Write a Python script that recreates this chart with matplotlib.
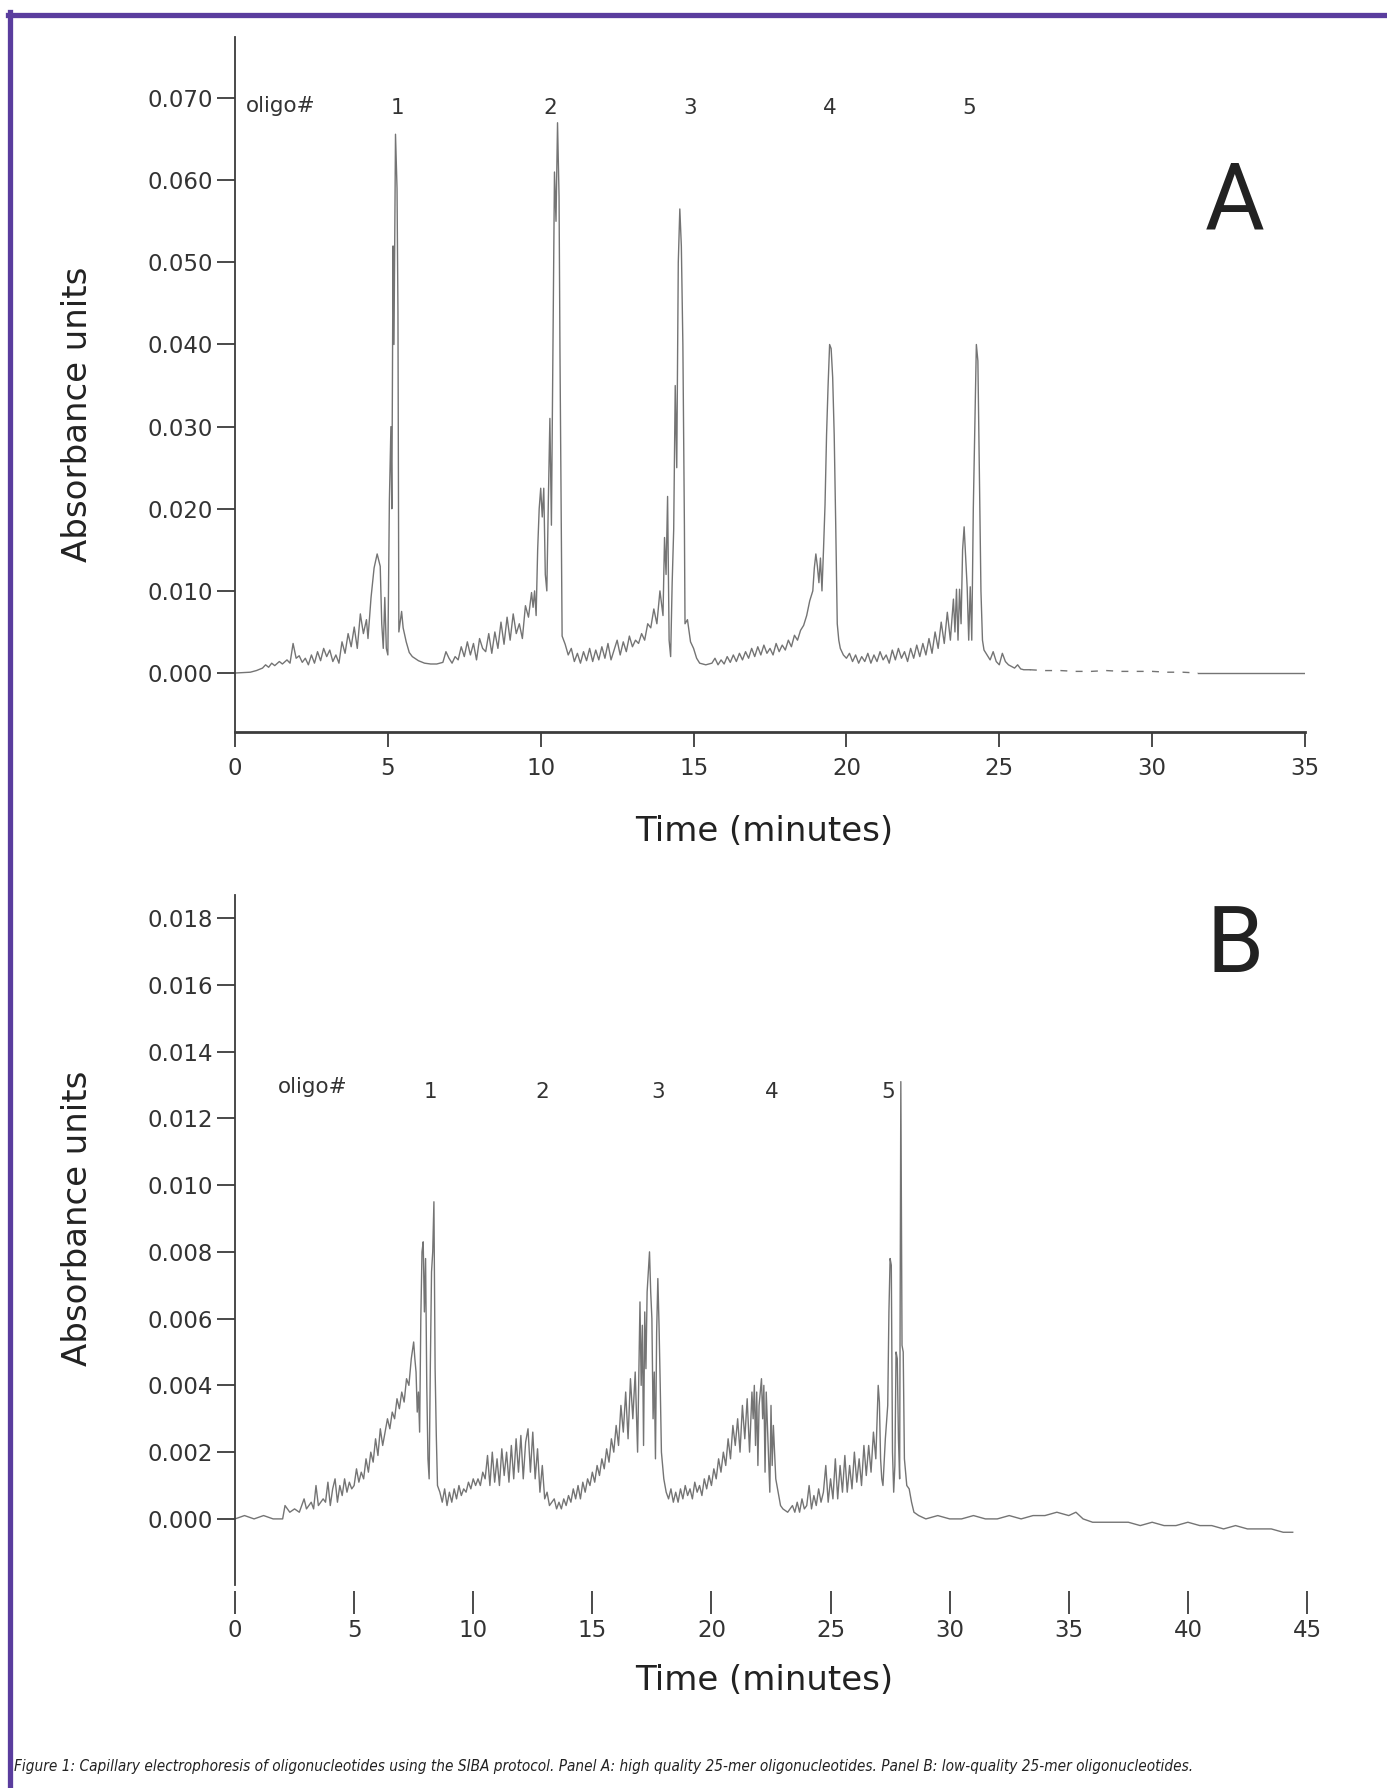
import matplotlib
matplotlib.use("Agg")
import matplotlib.pyplot as plt
from matplotlib.lines import Line2D
from matplotlib.ticker import FormatStrFormatter
import numpy as np

# ---- data ----
# panel A: high quality 25-mer oligos, (time in minutes, absorbance units)
trace_a = [
    (0.0, 0.0000), (0.5, 0.0001), (0.7, 0.0003), (0.9, 0.0006), (1.0, 0.0010), (1.1, 0.0007),
    (1.2, 0.0012), (1.3, 0.0009), (1.45, 0.0014), (1.55, 0.0011), (1.7, 0.0016), (1.8, 0.0012),
    (1.9, 0.0036), (2.0, 0.0018), (2.1, 0.0021), (2.2, 0.0013), (2.3, 0.0018), (2.4, 0.0010),
    (2.5, 0.0022), (2.6, 0.0012), (2.7, 0.0026), (2.8, 0.0015), (2.9, 0.0030), (3.0, 0.0020),
    (3.1, 0.0028), (3.2, 0.0014), (3.3, 0.0022), (3.4, 0.0012), (3.5, 0.0038), (3.6, 0.0024),
    (3.7, 0.0048), (3.8, 0.0032), (3.9, 0.0056), (4.0, 0.0030), (4.1, 0.0072), (4.2, 0.0048),
    (4.3, 0.0065), (4.35, 0.0042), (4.45, 0.0092), (4.55, 0.0128), (4.65, 0.0145), (4.75, 0.0130),
    (4.8, 0.0060), (4.85, 0.0030), (4.9, 0.0092), (4.95, 0.0030), (5.0, 0.0022), (5.05, 0.0210),
    (5.1, 0.0300), (5.13, 0.0200), (5.17, 0.0520), (5.2, 0.0400), (5.25, 0.0656), (5.3, 0.0590),
    (5.33, 0.0440), (5.36, 0.0050), (5.45, 0.0075), (5.5, 0.0055), (5.6, 0.0038), (5.7, 0.0025),
    (5.8, 0.0020), (6.0, 0.0015), (6.2, 0.0012), (6.4, 0.0011), (6.6, 0.0011), (6.8, 0.0013),
    (6.9, 0.0026), (7.0, 0.0018), (7.1, 0.0012), (7.2, 0.0020), (7.3, 0.0016), (7.4, 0.0032),
    (7.5, 0.0020), (7.6, 0.0038), (7.7, 0.0022), (7.8, 0.0036), (7.9, 0.0016), (8.0, 0.0042),
    (8.1, 0.0030), (8.2, 0.0026), (8.3, 0.0048), (8.4, 0.0024), (8.5, 0.0050), (8.6, 0.0030),
    (8.7, 0.0062), (8.8, 0.0035), (8.9, 0.0068), (9.0, 0.0040), (9.1, 0.0072), (9.2, 0.0048),
    (9.3, 0.0060), (9.4, 0.0042), (9.5, 0.0082), (9.6, 0.0068), (9.7, 0.0098), (9.75, 0.0080),
    (9.8, 0.0100), (9.85, 0.0070), (9.9, 0.0150), (9.95, 0.0200), (10.0, 0.0225), (10.05, 0.0190),
    (10.1, 0.0225), (10.15, 0.0120), (10.2, 0.0100), (10.25, 0.0210), (10.3, 0.0310), (10.35, 0.0180),
    (10.4, 0.0400), (10.45, 0.0610), (10.5, 0.0550), (10.55, 0.0670), (10.6, 0.0580), (10.63, 0.0390),
    (10.67, 0.0190), (10.7, 0.0045), (10.8, 0.0035), (10.9, 0.0022), (11.0, 0.0030), (11.1, 0.0014),
    (11.2, 0.0024), (11.3, 0.0012), (11.4, 0.0026), (11.5, 0.0015), (11.6, 0.0030), (11.7, 0.0014),
    (11.8, 0.0028), (11.9, 0.0016), (12.0, 0.0032), (12.1, 0.0018), (12.2, 0.0036), (12.3, 0.0016),
    (12.4, 0.0028), (12.5, 0.0040), (12.6, 0.0022), (12.7, 0.0038), (12.8, 0.0026), (12.9, 0.0045),
    (13.0, 0.0032), (13.1, 0.0040), (13.2, 0.0036), (13.3, 0.0048), (13.4, 0.0040), (13.5, 0.0060),
    (13.6, 0.0055), (13.7, 0.0078), (13.8, 0.0060), (13.9, 0.0100), (14.0, 0.0070), (14.05, 0.0165),
    (14.1, 0.0120), (14.15, 0.0215), (14.2, 0.0040), (14.25, 0.0020), (14.3, 0.0110), (14.35, 0.0175),
    (14.4, 0.0350), (14.45, 0.0250), (14.5, 0.0500), (14.55, 0.0565), (14.6, 0.0520), (14.65, 0.0400),
    (14.7, 0.0180), (14.72, 0.0060), (14.8, 0.0065), (14.9, 0.0038), (15.0, 0.0030), (15.1, 0.0018),
    (15.2, 0.0012), (15.4, 0.0010), (15.6, 0.0012), (15.7, 0.0018), (15.8, 0.0010), (15.9, 0.0016),
    (16.0, 0.0011), (16.1, 0.0020), (16.2, 0.0013), (16.3, 0.0022), (16.4, 0.0014), (16.5, 0.0024),
    (16.6, 0.0016), (16.7, 0.0026), (16.8, 0.0018), (16.9, 0.0030), (17.0, 0.0020), (17.1, 0.0032),
    (17.2, 0.0022), (17.3, 0.0034), (17.4, 0.0024), (17.5, 0.0030), (17.6, 0.0022), (17.7, 0.0036),
    (17.8, 0.0026), (17.9, 0.0034), (18.0, 0.0028), (18.1, 0.0040), (18.2, 0.0032), (18.3, 0.0046),
    (18.4, 0.0040), (18.5, 0.0052), (18.6, 0.0058), (18.7, 0.0070), (18.8, 0.0088), (18.9, 0.0100),
    (18.95, 0.0128), (19.0, 0.0145), (19.05, 0.0130), (19.1, 0.0110), (19.15, 0.0140), (19.2, 0.0100),
    (19.25, 0.0150), (19.3, 0.0205), (19.35, 0.0290), (19.4, 0.0350), (19.45, 0.0400), (19.5, 0.0395),
    (19.55, 0.0360), (19.6, 0.0290), (19.65, 0.0180), (19.7, 0.0060), (19.75, 0.0040), (19.8, 0.0030),
    (19.9, 0.0022), (20.0, 0.0018), (20.1, 0.0024), (20.2, 0.0014), (20.3, 0.0022), (20.4, 0.0012),
    (20.5, 0.0020), (20.6, 0.0014), (20.7, 0.0024), (20.8, 0.0012), (20.9, 0.0022), (21.0, 0.0014),
    (21.1, 0.0026), (21.2, 0.0016), (21.3, 0.0022), (21.4, 0.0012), (21.5, 0.0028), (21.6, 0.0016),
    (21.7, 0.0030), (21.8, 0.0018), (21.9, 0.0026), (22.0, 0.0014), (22.1, 0.0030), (22.2, 0.0018),
    (22.3, 0.0034), (22.4, 0.0020), (22.5, 0.0036), (22.6, 0.0022), (22.7, 0.0042), (22.8, 0.0024),
    (22.9, 0.0050), (23.0, 0.0030), (23.1, 0.0062), (23.2, 0.0036), (23.3, 0.0074), (23.4, 0.0040),
    (23.5, 0.0090), (23.55, 0.0050), (23.6, 0.0102), (23.65, 0.0040), (23.7, 0.0102), (23.75, 0.0060),
    (23.8, 0.0150), (23.85, 0.0178), (23.9, 0.0140), (23.95, 0.0104), (24.0, 0.0040), (24.05, 0.0105),
    (24.1, 0.0040), (24.15, 0.0200), (24.2, 0.0300), (24.25, 0.0400), (24.3, 0.0380), (24.35, 0.0240),
    (24.4, 0.0100), (24.45, 0.0040), (24.5, 0.0028), (24.6, 0.0022), (24.7, 0.0016), (24.8, 0.0026),
    (24.9, 0.0014), (25.0, 0.0010), (25.1, 0.0024), (25.2, 0.0014), (25.3, 0.0010), (25.4, 0.0008),
    (25.5, 0.0006), (25.6, 0.0010), (25.7, 0.0005), (25.8, 0.0004), (26.0, 0.0004), (26.5, 0.0003),
    (27.0, 0.0003), (27.5, 0.0002), (28.0, 0.0002), (28.5, 0.0003), (29.0, 0.0002), (29.5, 0.0002),
    (30.0, 0.0002), (30.5, 0.0001), (31.0, 0.0001), (31.5, 0.0000), (35.0, 0.0000),
]

# panel B: low quality 25-mer oligos
trace_b = [
    (0.0, 0.0000), (0.4, 0.0001), (0.8, 0.0000), (1.2, 0.0001), (1.6, 0.0000), (2.0, 0.0000),
    (2.1, 0.0004), (2.3, 0.0002), (2.5, 0.0003), (2.7, 0.0002), (2.9, 0.0006), (3.0, 0.0003),
    (3.2, 0.0005), (3.3, 0.0003), (3.4, 0.0010), (3.5, 0.0004), (3.7, 0.0006), (3.8, 0.0005),
    (3.9, 0.0011), (4.0, 0.0004), (4.1, 0.0009), (4.2, 0.0012), (4.3, 0.0005), (4.4, 0.0010),
    (4.5, 0.0007), (4.6, 0.0012), (4.7, 0.0008), (4.8, 0.0011), (4.9, 0.0009), (5.0, 0.0010),
    (5.1, 0.0015), (5.2, 0.0011), (5.3, 0.0014), (5.4, 0.0012), (5.5, 0.0018), (5.6, 0.0014),
    (5.7, 0.0020), (5.8, 0.0017), (5.9, 0.0024), (6.0, 0.0019), (6.1, 0.0027), (6.2, 0.0022),
    (6.3, 0.0026), (6.4, 0.0030), (6.5, 0.0027), (6.6, 0.0032), (6.7, 0.0030), (6.8, 0.0036),
    (6.9, 0.0033), (7.0, 0.0038), (7.1, 0.0035), (7.2, 0.0042), (7.3, 0.0040), (7.4, 0.0048),
    (7.5, 0.0053), (7.55, 0.0048), (7.6, 0.0044), (7.65, 0.0032), (7.7, 0.0038), (7.75, 0.0026),
    (7.8, 0.0060), (7.85, 0.0080), (7.9, 0.0083), (7.95, 0.0062), (8.0, 0.0078), (8.05, 0.0040),
    (8.1, 0.0018), (8.15, 0.0012), (8.2, 0.0046), (8.25, 0.0074), (8.3, 0.0080), (8.35, 0.0095),
    (8.4, 0.0045), (8.45, 0.0025), (8.5, 0.0010), (8.6, 0.0008), (8.7, 0.0005), (8.8, 0.0009),
    (8.9, 0.0004), (9.0, 0.0008), (9.1, 0.0005), (9.2, 0.0009), (9.3, 0.0006), (9.4, 0.0010),
    (9.5, 0.0007), (9.6, 0.0009), (9.7, 0.0008), (9.8, 0.0011), (9.9, 0.0009), (10.0, 0.0012),
    (10.1, 0.0010), (10.2, 0.0012), (10.3, 0.0010), (10.4, 0.0014), (10.5, 0.0012), (10.6, 0.0019),
    (10.7, 0.0010), (10.8, 0.0020), (10.9, 0.0011), (11.0, 0.0018), (11.1, 0.0010), (11.2, 0.0021),
    (11.3, 0.0013), (11.4, 0.0020), (11.5, 0.0011), (11.6, 0.0022), (11.7, 0.0012), (11.8, 0.0024),
    (11.9, 0.0014), (12.0, 0.0025), (12.1, 0.0012), (12.2, 0.0023), (12.3, 0.0027), (12.4, 0.0014),
    (12.5, 0.0026), (12.6, 0.0012), (12.7, 0.0021), (12.8, 0.0008), (12.9, 0.0016), (13.0, 0.0006),
    (13.1, 0.0008), (13.2, 0.0004), (13.4, 0.0006), (13.5, 0.0003), (13.6, 0.0005), (13.7, 0.0003),
    (13.8, 0.0006), (13.9, 0.0004), (14.0, 0.0007), (14.1, 0.0005), (14.2, 0.0009), (14.3, 0.0006),
    (14.4, 0.0010), (14.5, 0.0006), (14.6, 0.0011), (14.7, 0.0008), (14.8, 0.0012), (14.9, 0.0010),
    (15.0, 0.0014), (15.1, 0.0011), (15.2, 0.0016), (15.3, 0.0013), (15.4, 0.0018), (15.5, 0.0015),
    (15.6, 0.0021), (15.7, 0.0017), (15.8, 0.0024), (15.9, 0.0020), (16.0, 0.0028), (16.1, 0.0022),
    (16.2, 0.0034), (16.3, 0.0026), (16.4, 0.0038), (16.5, 0.0024), (16.6, 0.0042), (16.7, 0.0030),
    (16.8, 0.0044), (16.9, 0.0020), (17.0, 0.0065), (17.05, 0.0040), (17.1, 0.0058), (17.15, 0.0022),
    (17.2, 0.0062), (17.25, 0.0045), (17.3, 0.0068), (17.35, 0.0074), (17.4, 0.0080), (17.45, 0.0068),
    (17.5, 0.0060), (17.55, 0.0030), (17.6, 0.0044), (17.65, 0.0018), (17.7, 0.0056), (17.75, 0.0072),
    (17.8, 0.0058), (17.85, 0.0040), (17.9, 0.0020), (18.0, 0.0012), (18.1, 0.0008), (18.2, 0.0006),
    (18.3, 0.0009), (18.4, 0.0005), (18.5, 0.0008), (18.6, 0.0005), (18.7, 0.0009), (18.8, 0.0006),
    (18.9, 0.0010), (19.0, 0.0007), (19.1, 0.0009), (19.2, 0.0006), (19.3, 0.0011), (19.4, 0.0008),
    (19.5, 0.0010), (19.6, 0.0007), (19.7, 0.0012), (19.8, 0.0009), (19.9, 0.0013), (20.0, 0.0010),
    (20.1, 0.0015), (20.2, 0.0012), (20.3, 0.0018), (20.4, 0.0014), (20.5, 0.0020), (20.6, 0.0016),
    (20.7, 0.0024), (20.8, 0.0018), (20.9, 0.0028), (21.0, 0.0022), (21.1, 0.0030), (21.2, 0.0020),
    (21.3, 0.0034), (21.4, 0.0024), (21.5, 0.0036), (21.55, 0.0028), (21.6, 0.0020), (21.7, 0.0038),
    (21.75, 0.0030), (21.8, 0.0040), (21.85, 0.0022), (21.9, 0.0038), (21.95, 0.0016), (22.0, 0.0034),
    (22.1, 0.0042), (22.15, 0.0030), (22.2, 0.0040), (22.25, 0.0014), (22.3, 0.0038), (22.4, 0.0018),
    (22.45, 0.0008), (22.5, 0.0034), (22.55, 0.0016), (22.6, 0.0028), (22.7, 0.0012), (22.8, 0.0008),
    (22.9, 0.0004), (23.0, 0.0003), (23.2, 0.0002), (23.4, 0.0004), (23.5, 0.0002), (23.6, 0.0005),
    (23.7, 0.0002), (23.8, 0.0006), (23.9, 0.0003), (24.0, 0.0004), (24.1, 0.0010), (24.2, 0.0003),
    (24.3, 0.0007), (24.4, 0.0004), (24.5, 0.0009), (24.6, 0.0005), (24.7, 0.0008), (24.8, 0.0016),
    (24.9, 0.0005), (25.0, 0.0012), (25.1, 0.0006), (25.2, 0.0018), (25.3, 0.0006), (25.4, 0.0016),
    (25.5, 0.0008), (25.6, 0.0019), (25.7, 0.0008), (25.8, 0.0016), (25.9, 0.0009), (26.0, 0.0020),
    (26.1, 0.0011), (26.2, 0.0018), (26.3, 0.0010), (26.4, 0.0022), (26.5, 0.0013), (26.6, 0.0022),
    (26.7, 0.0014), (26.8, 0.0026), (26.9, 0.0018), (27.0, 0.0040), (27.05, 0.0035), (27.1, 0.0018),
    (27.15, 0.0012), (27.2, 0.0010), (27.3, 0.0024), (27.4, 0.0034), (27.45, 0.0062), (27.5, 0.0078),
    (27.55, 0.0076), (27.6, 0.0020), (27.65, 0.0008), (27.7, 0.0016), (27.75, 0.0050), (27.8, 0.0048),
    (27.85, 0.0024), (27.9, 0.0012), (27.95, 0.0131), (28.0, 0.0052), (28.05, 0.0050), (28.1, 0.0018),
    (28.2, 0.0010), (28.3, 0.0009), (28.4, 0.0005), (28.5, 0.0002), (28.7, 0.0001), (29.0, 0.0000),
    (29.5, 0.0001), (30.0, 0.0000), (30.5, 0.0000), (31.0, 0.0001), (31.5, 0.0000), (32.0, 0.0000),
    (32.5, 0.0001), (33.0, 0.0000), (33.5, 0.0001), (34.0, 0.0001), (34.5, 0.0002), (35.0, 0.0001),
    (35.3, 0.0002), (35.6, 0.0000), (36.0, -0.0001), (36.5, -0.0001), (37.0, -0.0001), (37.5, -0.0001),
    (38.0, -0.0002), (38.5, -0.0001), (39.0, -0.0002), (39.5, -0.0002), (40.0, -0.0001), (40.5, -0.0002),
    (41.0, -0.0002), (41.5, -0.0003), (42.0, -0.0002), (42.5, -0.0003), (43.0, -0.0003), (43.5, -0.0003),
    (44.0, -0.0004), (44.4, -0.0004),
]

oligo_labels = ["1", "2", "3", "4", "5"]
oligo_pos_a = [5.3, 10.3, 14.9, 19.45, 24.0]
oligo_pos_b = [8.2, 12.9, 17.75, 22.55, 27.4]

yticks_a = [0.0, 0.01, 0.02, 0.03, 0.04, 0.05, 0.06, 0.07]
yticks_b = [0.0, 0.002, 0.004, 0.006, 0.008, 0.010, 0.012, 0.014, 0.016, 0.018]
xticks_a = [0, 5, 10, 15, 20, 25, 30, 35]
xticks_b = [0, 5, 10, 15, 20, 25, 30, 35, 40, 45]

caption = ("Figure 1: Capillary electrophoresis of oligonucleotides using the SIBA protocol. "
           "Panel A: high quality 25-mer oligonucleotides. Panel B: low-quality 25-mer oligonucleotides.")

TRACE = "#747474"
AXIS = "#3c3c3c"
TXT = "#333333"
PURPLE = "#5a3d9e"

W, H = 1387, 1788
fig = plt.figure(figsize=(W / 100, H / 100), dpi=100)
fig.patch.set_facecolor("white")

# purple frame (top + left edges)
fig.add_artist(Line2D([8 / W, 1.0], [1 - 14.5 / H, 1 - 14.5 / H], color=PURPLE, lw=3.8,
                      transform=fig.transFigure))
fig.add_artist(Line2D([10 / W, 10 / W], [0, 1 - 12 / H], color=PURPLE, lw=3.8,
                      transform=fig.transFigure))


def style_axes(ax, xticks, yticks):
    for s in ("top", "right"):
        ax.spines[s].set_visible(False)
    ax.spines["left"].set_color(AXIS)
    ax.spines["left"].set_linewidth(1.3)
    ax.spines["bottom"].set_color(AXIS)
    ax.spines["bottom"].set_linewidth(2.0)
    ax.set_xticks(xticks)
    ax.set_yticks(yticks)
    ax.yaxis.set_major_formatter(FormatStrFormatter("%.3f"))
    ax.tick_params(axis="y", direction="out", length=13, width=1.3, color=AXIS,
                   labelsize=16.5, labelcolor=TXT, pad=3)
    ax.tick_params(axis="x", direction="out", width=1.3, color=AXIS,
                   labelsize=16.5, labelcolor=TXT)
    ax.patch.set_alpha(0)


# ---- panel A ----
axA = fig.add_axes([235 / W, 1 - 732 / H, 1070 / W, (732 - 36.5) / H])
ta = np.array([p[0] for p in trace_a])
va = np.array([p[1] for p in trace_a])
solid1 = ta <= 26.0
dashed = (ta >= 26.0) & (ta <= 31.5)
solid2 = ta >= 31.5
axA.plot(ta[solid1], va[solid1], color=TRACE, lw=1.0)
axA.plot(ta[dashed], va[dashed], color=TRACE, lw=1.0, ls=(0, (5, 6)))
axA.plot(ta[solid2], va[solid2], color=TRACE, lw=1.0)
axA.set_xlim(0, 35)
axA.set_ylim(-0.00718, 0.0775)
style_axes(axA, xticks_a, yticks_a)
axA.tick_params(axis="x", length=11, pad=7)

axA.text(0.36, 0.0690, "oligo#", fontsize=15.5, color=TXT, ha="left", va="center")
for lab, x in zip(oligo_labels, oligo_pos_a):
    axA.text(x, 0.0688, lab, fontsize=15.5, color=TXT, ha="center", va="center")

# ---- panel B ----
axB = fig.add_axes([235 / W, 1 - 1585 / H, 1072 / W, (1585 - 895) / H])
tb = np.array([p[0] for p in trace_b])
vb = np.array([p[1] for p in trace_b])
axB.plot(tb, vb, color=TRACE, lw=1.0)
axB.set_xlim(0, 45)
axB.set_ylim(-0.00198, 0.01869)
style_axes(axB, xticks_b, yticks_b)
axB.spines["bottom"].set_position(("outward", 4))
axB.spines["bottom"].set_visible(False)
axB.tick_params(axis="x", length=16.5, pad=4)

axB.text(1.82, 0.01294, "oligo#", fontsize=15.5, color=TXT, ha="left", va="center")
for lab, x in zip(oligo_labels, oligo_pos_b):
    axB.text(x, 0.0128, lab, fontsize=15.5, color=TXT, ha="center", va="center")

# ---- axis titles, panel letters, caption ----
for yc in (414, 1218):
    fig.text(78 / W, 1 - yc / H, "Absorbance units", rotation=90, fontsize=24.5,
             color="#222222", ha="center", va="center")
for yc in (832, 1680):
    fig.text(764 / W, 1 - yc / H, "Time (minutes)", fontsize=24.5,
             color="#222222", ha="center", va="center")

fig.text(1235 / W, 1 - 203 / H, "A", fontsize=66, family=["Roboto", "Liberation Sans"],
         weight="normal", color="#222222", ha="center", va="center")
fig.text(1235 / W, 1 - 946 / H, "B", fontsize=66, family=["Roboto", "Liberation Sans"],
         weight="normal", color="#222222", ha="center", va="center")

fig.text(14 / W, 1 - 1766 / H, caption, fontsize=11.0, style="italic",
         family=["DejaVu Sans Condensed", "Liberation Sans Narrow", "DejaVu Sans"],
         stretch="condensed", color="#222222", ha="left", va="center")

fig.savefig("out.png", dpi=100, facecolor="white")
